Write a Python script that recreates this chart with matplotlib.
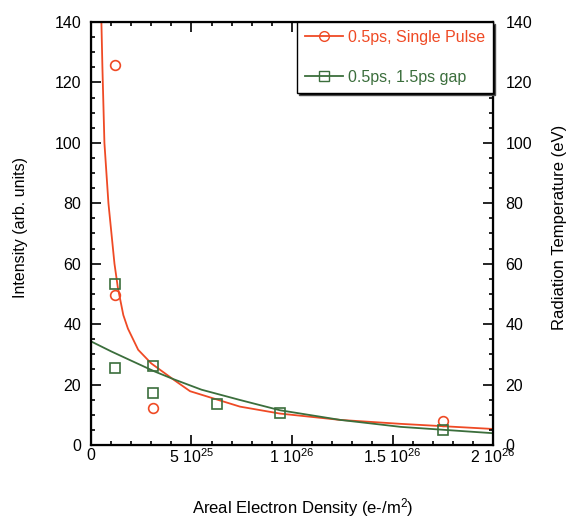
import numpy as np
import matplotlib
matplotlib.use("Agg")
import matplotlib.pyplot as plt
from matplotlib.ticker import MultipleLocator
from matplotlib.lines import Line2D

plt.rcParams['font.family'] = ['Liberation Sans', 'DejaVu Sans']
plt.rcParams['mathtext.fontset'] = 'custom'
plt.rcParams['mathtext.rm'] = 'Liberation Sans'
plt.rcParams['mathtext.it'] = 'Liberation Sans'

# measured points (x in units of 1e26 e-/m^2)
single_x = [0.12, 0.12, 0.31, 1.75]
single_y = [125.8, 49.6, 12.1, 8.0]
gap_x = [0.12, 0.12, 0.31, 0.31, 0.625, 0.94, 1.75]
gap_y = [53.4, 25.4, 26.1, 17.1, 13.7, 10.6, 5.0]

# fit curves
single_fit_x = [0.052, 0.057, 0.067, 0.087, 0.117, 0.134, 0.161, 0.184, 0.235, 0.30,
                0.418, 0.493, 0.741, 0.94, 1.24, 1.54, 2.0]
single_fit_y = [140, 125, 100, 80, 60, 52, 43, 38.5, 31.5, 27,
                21.3, 17.8, 12.7, 10.4, 8.3, 7.0, 5.3]
gap_fit_x = [0.0, 0.1, 0.194, 0.318, 0.41, 0.55, 0.741, 0.94, 1.24, 1.54, 2.0]
gap_fit_y = [34.3, 31.0, 28.1, 24.3, 21.8, 18.3, 14.9, 11.5, 8.3, 6.0, 3.9]

x_ticks = [0, 0.5, 1.0, 1.5, 2.0]
x_labels = ['0', r'5 10$^{25}$', r'1 10$^{26}$', r'1.5 10$^{26}$', r'2 10$^{26}$']
series_names = ['0.5ps, Single Pulse', '0.5ps, 1.5ps gap']

red = '#ef4a25'
green = '#3b6e3c'

fig = plt.figure(figsize=(5.72, 5.19), dpi=100)
ax = fig.add_axes([0.159, 0.1426, 0.703, 0.815])

ax.plot(single_fit_x, single_fit_y, color=red, lw=1.3)
ax.plot(single_x, single_y, ls='none', marker='o', mfc='none', mec=red, ms=7, mew=1.2)
ax.plot(gap_fit_x, gap_fit_y, color=green, lw=1.3)
ax.plot(gap_x, gap_y, ls='none', marker='s', mfc='none', mec=green, ms=7, mew=1.2)

ax.set_xlim(0, 2.0)
ax.set_ylim(0, 140)
ax.set_xticks(x_ticks)
ax.set_xticklabels(x_labels)
ax.xaxis.set_minor_locator(MultipleLocator(0.1))
ax.yaxis.set_major_locator(MultipleLocator(20))
ax.yaxis.set_minor_locator(MultipleLocator(5))
ax.tick_params(which='both', direction='in', top=True, labelsize=11.5, width=1.2)
ax.tick_params(which='major', length=7, pad=7)
ax.tick_params(which='minor', length=3)
ax.tick_params(axis='x', pad=2)
for s in ax.spines.values():
    s.set_linewidth(1.6)

ax.set_xlabel('Areal Electron Density (e-/m$^2$)', fontsize=12)
ax.xaxis.set_label_coords(0.527, -0.12)
ax.set_ylabel('Intensity (arb. units)', fontsize=11.5)
ax.yaxis.set_label_coords(-0.157, 0.513)

ax2 = ax.twinx()
ax2.set_ylim(0, 140)
ax2.yaxis.set_major_locator(MultipleLocator(20))
ax2.yaxis.set_minor_locator(MultipleLocator(5))
ax2.tick_params(which='both', direction='in', labelsize=11.5, width=1.2)
ax2.tick_params(which='major', length=7, pad=9)
ax2.tick_params(which='minor', length=3)
ax2.set_ylabel('Radiation Temperature (eV)', fontsize=12)
ax2.yaxis.set_label_coords(1.147, 0.515)

handles = [Line2D([], [], color=red, lw=1.3, marker='o', mfc='none', mec=red, ms=7),
           Line2D([], [], color=green, lw=1.3, marker='s', mfc='none', mec=green, ms=7)]
leg = ax2.legend(handles, series_names, loc='upper right', bbox_to_anchor=(1, 1),
                 borderaxespad=0, fontsize=11.5, numpoints=1, handlelength=2.4,
                 handletextpad=0.3, labelspacing=1.55, borderpad=0.5, fancybox=False,
                 edgecolor='black', framealpha=1, labelcolor='linecolor',
                 shadow={'facecolor': 'black', 'alpha': 1, 'ox': 1.5, 'oy': -1.5})
leg.get_frame().set_linewidth(1.0)

fig.savefig('out.png', dpi=100)
